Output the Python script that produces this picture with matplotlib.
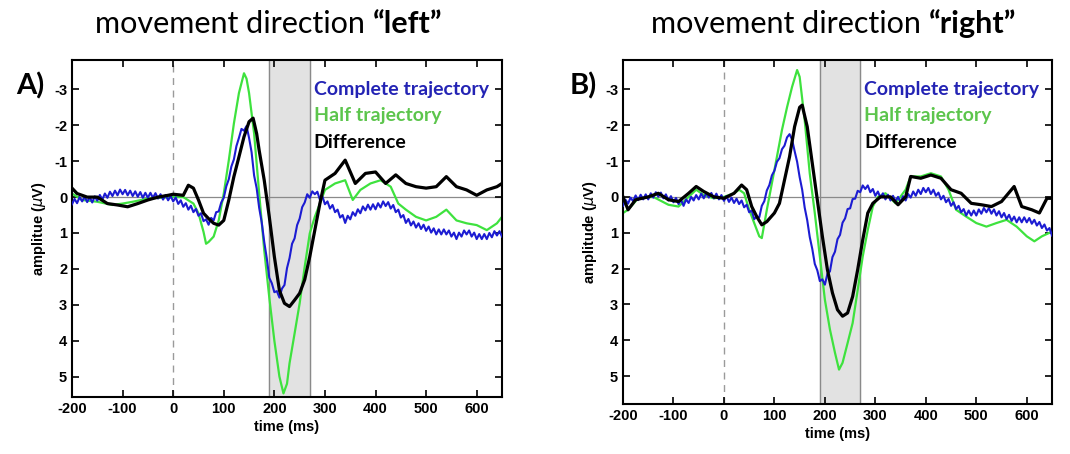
import matplotlib
matplotlib.use('Agg')
import matplotlib.pyplot as plt
import numpy as np

# ---- data (time in ms, amplitude in uV) ----
# panel A: movement direction "left"
# blue trace read every 5 ms from -200 ms (it has a visible fast ripple)
left_blue_v = [0.20, 0.05, 0.17, 0.00, 0.12, -0.01, 0.14, 0.00, 0.15, -0.02, 0.10, -0.06, 0.07, -0.10, 0.02, -0.15,
               -0.03, -0.18, -0.05, -0.21, -0.08, -0.20, -0.05, -0.18, -0.03, -0.16, -0.01, -0.14, 0.02, -0.12,
               0.02, -0.12, 0.02, -0.11, 0.04, -0.08, 0.07, -0.06, 0.09, -0.03,
               0.12, 0.01, 0.19, 0.09, 0.27, 0.17, 0.35, 0.24, 0.42, 0.33, 0.52, 0.45, 0.67, 0.62, 0.77, 0.58,
               0.65, 0.42, 0.40, 0.15, 0.02, -0.30, -0.50, -0.85, -1.05, -1.42, -1.65, -1.90, -1.85, -1.98,
               -1.65, -1.25, -0.60, -0.25, 0.30, 0.70, 1.25, 1.70, 2.25, 2.40, 2.65, 2.62, 2.80, 2.55, 2.45,
               1.98, 1.70, 1.30, 1.15, 0.78, 0.60, 0.28, 0.15, -0.08, 0.02, -0.16, -0.08, -0.15, 0.07, -0.02,
               0.20, 0.12, 0.32, 0.22, 0.42, 0.35, 0.57, 0.50, 0.72, 0.52, 0.62, 0.42, 0.52, 0.34, 0.45, 0.26,
               0.37, 0.21, 0.35, 0.20, 0.34, 0.17, 0.29, 0.12, 0.25, 0.14, 0.32, 0.22, 0.42, 0.35, 0.57, 0.50,
               0.72, 0.61, 0.79, 0.68, 0.85, 0.73, 0.89, 0.77, 0.94, 0.82, 0.99, 0.87, 1.04, 0.90, 1.04, 0.90,
               1.04, 0.93, 1.10, 0.99, 1.17, 0.99, 1.10, 0.93, 1.04, 0.93, 1.10, 0.99, 1.17, 1.03, 1.17, 1.03,
               1.17, 1.00, 1.12, 0.95, 1.07, 0.95, 1.10]

left_green_t = [-200, -180, -150, -120, -100, -80, -50, 0, 20, 40, 50, 60, 65, 70, 80, 90, 100, 110,
                120, 130, 140, 145, 150, 160, 170, 180, 190, 200, 210, 218, 225, 230, 240, 250, 260,
                270, 280, 290, 300, 320, 340, 355, 370, 390, 410, 430, 445, 460, 480, 500, 520, 540,
                560, 580, 600, 620, 640, 650]
left_green_v = [-0.1, 0.08, 0.13, 0.22, 0.18, 0.13, 0.04, 0.0, 0.0, 0.18, 0.45, 0.97, 1.3, 1.25, 1.1, 0.65, -0.1, -1.03,
                -2.05, -2.9, -3.45, -3.3, -2.9, -1.77, -0.1, 1.48, 2.8, 4.0, 5.0, 5.47, 5.2, 4.63, 3.8, 2.96, 1.94,
                1.01, 0.55, 0.18, -0.2, -0.38, -0.47, 0.08, -0.2, -0.38, -0.47, -0.29, 0.18, 0.35, 0.55, 0.65, 0.55, 0.35,
                0.65, 0.73, 0.78, 0.92, 0.73, 0.55]

left_black_t = [-200, -190, -170, -150, -130, -110, -90, -70, -50, -30, -10, 0, 20, 30, 40, 50, 60, 70,
                80, 90, 100, 110, 120, 130, 140, 150, 158, 165, 170, 180, 190, 200, 210, 220, 230,
                240, 250, 260, 270, 280, 290, 300, 320, 340, 360, 380, 400, 420, 440, 460, 480, 500,
                520, 540, 560, 580, 600, 620, 640, 650]
left_black_v = [-0.25, -0.1, 0.0, 0.0, 0.18, 0.22, 0.27, 0.18, 0.08, 0.0, -0.05, -0.08, -0.05, -0.33, -0.25, 0.08, 0.45, 0.6,
                0.73, 0.78, 0.65, 0.08, -0.57, -1.12, -1.68, -2.1, -2.2, -1.77, -1.3, -0.47, 0.55, 1.66, 2.6, 2.96, 3.05,
                2.87, 2.68, 2.3, 1.66, 0.92, 0.18, -0.47, -0.66, -1.03, -0.38, -0.66, -0.7, -0.38, -0.62, -0.38, -0.29, -0.25,
                -0.29, -0.57, -0.29, -0.2, -0.05, -0.2, -0.29, -0.38]

# panel B: movement direction "right"
right_blue_v = [0.25, 0.08, 0.19, 0.02, 0.12, -0.04, 0.09, -0.06, 0.07, -0.07, 0.07, -0.10, 0.02, -0.13, -0.01, -0.12,
                0.04, -0.07, 0.10, -0.02, 0.15, 0.03, 0.20, 0.08, 0.25, 0.07, 0.17, 0.00, 0.10, -0.05,
                0.07, -0.09, 0.04, -0.11, 0.02, -0.11, 0.04, -0.09, 0.07, -0.05,
                0.11, -0.02, 0.14, 0.02, 0.17, 0.05, 0.20, 0.10, 0.29, 0.22, 0.43, 0.38, 0.62, 0.55, 0.57, 0.25,
                0.12, -0.18, -0.33, -0.60, -0.73, -0.98, -1.08, -1.33, -1.43, -1.66, -1.75, -1.60, -1.28, -0.98,
                -0.55, -0.20, 0.30, 0.65, 1.12, 1.45, 1.87, 2.05, 2.35, 2.30, 2.45, 2.15, 2.08, 1.68, 1.53,
                1.18, 1.06, 0.72, 0.60, 0.34, 0.32, 0.06, 0.05, -0.17, -0.13, -0.32, -0.22, -0.32, -0.13, -0.22,
                -0.03, -0.15, 0.02, -0.10, 0.07, -0.06, 0.10, -0.03, 0.12, 0.00, 0.15, -0.02, 0.10, -0.08, 0.02,
                -0.15, -0.03, -0.20, -0.08, -0.25, -0.13, -0.25, -0.08, -0.20, -0.03, -0.12, 0.07, -0.03, 0.15,
                0.06, 0.25, 0.15, 0.34, 0.25, 0.43, 0.34, 0.52, 0.38, 0.52, 0.38, 0.52, 0.35, 0.47, 0.31, 0.43,
                0.31, 0.47, 0.35, 0.52, 0.40, 0.57, 0.45, 0.62, 0.50, 0.67, 0.55, 0.71, 0.57, 0.71, 0.57, 0.71,
                0.59, 0.75, 0.64, 0.80, 0.70, 0.87, 0.77, 0.94, 0.87, 1.08]

right_green_t = [-200, -190, -170, -140, -110, -90, -70, -55, -40, -20, 0, 20, 30, 40, 50, 60, 70, 75,
                 85, 95, 105, 115, 125, 135, 145, 150, 160, 170, 180, 190, 200, 210, 220, 228, 235,
                 245, 255, 265, 275, 285, 295, 305, 320, 340, 360, 370, 390, 410, 430, 445, 460, 480,
                 500, 520, 540, 560, 580, 600, 615, 630, 650]
right_green_v = [0.45, 0.36, 0.04, 0.0, 0.22, 0.27, 0.0, -0.2, -0.05, 0.04, 0.0, -0.1, -0.2, -0.1, 0.36, 0.73, 1.1, 1.15,
                 0.36, -0.38, -1.12, -1.87, -2.5, -3.07, -3.54, -3.35, -2.14, -0.66, 0.45, 1.66, 2.87, 3.7, 4.35, 4.82, 4.63,
                 4.08, 3.52, 2.6, 1.66, 0.92, 0.27, 0.0, -0.1, 0.18, -0.2, -0.57, -0.57, -0.66, -0.57, -0.2, 0.36, 0.55,
                 0.73, 0.83, 0.73, 0.64, 0.83, 1.1, 1.24, 1.1, 0.97]

right_black_t = [-200, -190, -175, -150, -130, -110, -90, -70, -55, -40, -20, 0, 20, 35, 45, 55, 65, 75,
                 85, 100, 110, 120, 130, 140, 150, 155, 165, 175, 185, 195, 205, 215, 225, 235, 245,
                 255, 265, 275, 285, 295, 310, 330, 345, 360, 370, 390, 410, 430, 450, 470, 490, 510,
                 530, 550, 575, 590, 610, 625, 640, 650]
right_black_v = [0.0, 0.36, 0.08, 0.0, -0.1, 0.08, 0.13, -0.1, -0.29, -0.15, 0.0, 0.04, -0.1, -0.33, -0.2, 0.27, 0.55, 0.78,
                 0.69, 0.45, 0.18, -0.47, -1.12, -1.96, -2.5, -2.56, -1.96, -0.94, 0.08, 1.1, 2.03, 2.68, 3.15, 3.33, 3.24,
                 2.78, 2.03, 1.2, 0.45, 0.18, 0.0, 0.0, 0.22, 0.0, -0.57, -0.52, -0.61, -0.52, -0.2, -0.1, 0.18, 0.22,
                 0.27, 0.13, -0.29, 0.27, 0.36, 0.45, 0.04, 0.04]

titles_normal = ['movement direction ', 'movement direction ']
titles_bold = ['\u201cleft\u201d', '\u201cright\u201d']
panel_labels = ['A)', 'B)']
ylabels = ['amplitue ($\\mu$V)', 'amplitude ($\\mu$V)']
legend_names = ['Complete trajectory', 'Half trajectory', 'Difference']
xticks = [-200, -100, 0, 100, 200, 300, 400, 500, 600]
yticks = [-3, -2, -1, 0, 1, 2, 3, 4, 5]
window = (190, 270)
blue_step = 5  # ms between blue samples

BLUE = '#1c1cd2'
GREEN = '#3ee23e'
BLACK = '#000000'
TXT_BLUE = '#2323b4'
TXT_GREEN = '#5cc54c'

plt.rcParams['font.family'] = ['Liberation Sans', 'DejaVu Sans']
plt.rcParams['axes.unicode_minus'] = False

fig = plt.figure(figsize=(10.70, 4.54), dpi=100)
W, H = 1070.0, 454.0

# axes boxes in pixels: left, right, top, bottom
boxes = [(72, 502, 60, 397), (623, 1052, 60, 404)]
ylims = [(5.57, -3.82), (5.78, -3.82)]
panels = [
    (left_blue_v, left_green_t, left_green_v, left_black_t, left_black_v),
    (right_blue_v, right_green_t, right_green_v, right_black_t, right_black_v),
]
title_split = [373, 929]   # pixel x where the bold part starts
label_x = [30, 583]

for i in range(2):
    l, r, t, b = boxes[i]
    ax = fig.add_axes([l / W, 1 - b / H, (r - l) / W, (b - t) / H])
    bv, gt, gv, kt, kv = panels[i]
    bt = -200 + blue_step * np.arange(len(bv))

    ax.axvspan(window[0], window[1], color='#e2e2e2', zorder=0)
    ax.axvline(window[0], color='#8a8a8a', lw=1.0, zorder=1)
    ax.axvline(window[1], color='#8a8a8a', lw=1.0, zorder=1)
    ax.axvline(0, color='#9a9a9a', lw=1.0, ls=(0, (5, 4)), zorder=1)
    ax.axhline(0, color='#8a8a8a', lw=0.9, zorder=1)

    ax.plot(bt, bv, color=BLUE, lw=1.5, zorder=3)
    ax.plot(gt, gv, color=GREEN, lw=1.6, zorder=2)
    ax.plot(kt, kv, color=BLACK, lw=2.3, zorder=4)

    ax.set_xlim(-200, 650)
    ax.set_ylim(*ylims[i])
    ax.set_xticks(xticks)
    ax.set_yticks(yticks)
    ax.tick_params(direction='in', top=True, right=True, length=5, width=1.2,
                   labelsize=10.5)
    for lab in ax.get_xticklabels() + ax.get_yticklabels():
        lab.set_fontweight('bold')
    for sp in ax.spines.values():
        sp.set_linewidth(1.5)
    ax.set_xlabel('time (ms)', fontsize=10.5, fontweight='bold', labelpad=3)
    ax.set_ylabel(ylabels[i], fontsize=10.5, fontweight='bold', labelpad=4)

    # in-plot legend text
    lx = 278
    for name, col, yv in zip(legend_names, [TXT_BLUE, TXT_GREEN, BLACK], [-3.0, -2.26, -1.53]):
        ax.text(lx, yv, name, color=col, fontsize=14, fontweight='bold',
                family=['Lato', 'DejaVu Sans'], va='center', ha='left', clip_on=False, zorder=5)

    # panel letter
    fig.text(label_x[i] / W, 1 - 86 / H, panel_labels[i], fontsize=21, fontweight='bold',
             family=['Lato', 'DejaVu Sans'], ha='center', va='center')

    # title: normal part + bold part
    tt = fig.text(title_split[i] / W, 1 - 24 / H, titles_normal[i], fontsize=22,
                  family=['Lato', 'DejaVu Sans'], ha='right', va='center')
    ax.annotate(titles_bold[i], xy=(1, 0), xycoords=tt, va='bottom', ha='left',
                fontsize=22, fontweight='bold', family=['Lato', 'DejaVu Sans'],
                annotation_clip=False)

fig.savefig('out.png', dpi=100)
